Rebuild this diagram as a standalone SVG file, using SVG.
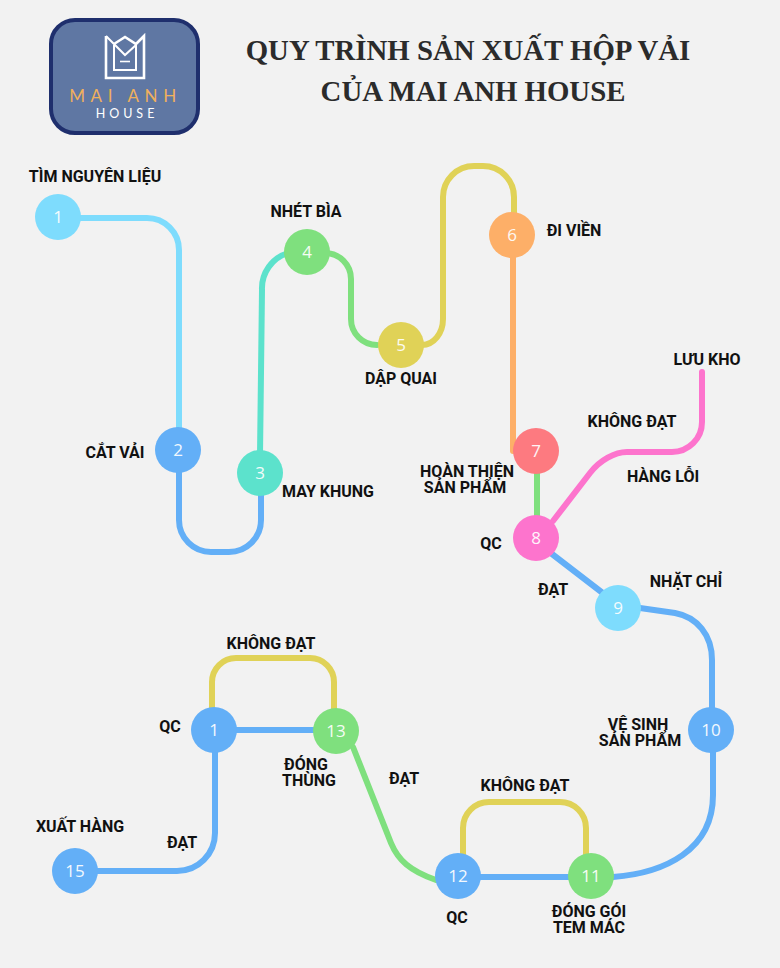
<svg xmlns="http://www.w3.org/2000/svg" width="780" height="968" viewBox="0 0 780 968">
<style>
.c{fill:none;stroke-width:6;stroke-linecap:round;stroke-linejoin:round}
.l{font-family:Roboto,"Liberation Sans",sans-serif;font-weight:700;font-size:16px;fill:#111;text-anchor:middle}
.n{font-family:"Open Sans","Noto Sans",sans-serif;font-size:17px;fill:#fff;text-anchor:middle;opacity:.92}
.t{font-family:"Liberation Serif",serif;font-weight:700;font-size:28.800px;fill:#2b2b2b;text-anchor:middle}
.blue{stroke:#63aff7}.sky{stroke:#7edcfd}.yel{stroke:#e0d257}.grn{stroke:#7fe07e}.tea{stroke:#5ce2cc}.org{stroke:#fdaf68}.pnk{stroke:#fd74cd}
</style>
<rect width="780" height="968" fill="#f2f2f2"/>
<g id="logo">
<rect x="51" y="20" width="147" height="113" rx="24" fill="#5f77a3" stroke="#1f2f6d" stroke-width="4"/>
<path d="M106 36V78H144V36L136 44L125 37L114 44" fill="none" stroke="#fff" stroke-width="2.600"/>
<path d="M114 45V70H136V44M106 36L125 55L136 45" fill="none" stroke="#fff" stroke-width="2"/>
<path d="M120 61.500H130" fill="none" stroke="#fff" stroke-width="1.600"/>
<text x="125.500" y="102" font-family="Lato,'Open Sans',sans-serif" font-size="17" letter-spacing="5.600" fill="#f0b05c" text-anchor="middle">MAI ANH</text>
<text x="127" y="118" font-family="Lato,'Open Sans',sans-serif" font-size="12.500" letter-spacing="4" fill="#fff" text-anchor="middle">HOUSE</text>
</g>
<g id="title">
<text class="t" x="468" y="60">QUY TRÌNH SẢN XUẤT HỘP VẢI</text>
<text class="t" x="473" y="101">CỦA MAI ANH HOUSE</text>
</g>
<g id="connectors">
<path class="c sky" d="M78 218H147A32 32 0 0 1 179 250V430"/>
<path class="c blue" d="M179 470V520A32 32 0 0 0 211 552H229A32 32 0 0 0 261 520V490"/>
<path class="c tea" d="M260 455L262 290A37 37 0 0 1 288 253"/>
<path class="c grn" d="M325 253A26 26 0 0 1 351 279V319A26 26 0 0 0 377 345"/>
<path class="c yel" d="M422 345A21 26 0 0 0 443 319V197A31 31 0 0 1 474 166H483A31 31 0 0 1 514 197V215"/>
<path class="c org" d="M513 250V451"/>
<path class="c grn" d="M537 470V518"/>
<path class="c pnk" d="M553 521L590 473C600 460 615 452 627 452H672A30 30 0 0 0 702 422V372"/>
<path class="c blue" d="M552 554L604 594"/>
<path class="c blue" d="M640 608L675 613C697 617 712 635 712 660V710"/>
<path class="c blue" d="M713 750V795C713 850 665 873 613 877"/>
<path class="c blue" d="M478 877H570"/>
<path class="c yel" d="M463 855V828A26 26 0 0 1 489 802H560A26 26 0 0 1 586 828V855"/>
<path class="c grn" d="M353 747L391 843C398 860 410 871 436 880"/>
<path class="c blue" d="M234 730H315"/>
<path class="c yel" d="M212 709V682A24 24 0 0 1 236 658H310A24 24 0 0 1 334 682V709"/>
<path class="c blue" d="M215 750V833A38 38 0 0 1 177 871H95"/>
</g>
<g id="node-1"><circle cx="58" cy="217" r="23" fill="#7edcfd"/><text class="n" x="58" y="223">1</text><text class="l" x="95" y="182">TÌM NGUYÊN LIỆU</text></g>
<g id="node-2"><circle cx="178" cy="450" r="23" fill="#63aff7"/><text class="n" x="178" y="456">2</text><text class="l" x="115" y="458">CẮT VẢI</text></g>
<g id="node-3"><circle cx="260" cy="473" r="23" fill="#5ce2cc"/><text class="n" x="260" y="479">3</text><text class="l" x="328" y="497">MAY KHUNG</text></g>
<g id="node-4"><circle cx="307" cy="252" r="23" fill="#7fe07e"/><text class="n" x="307" y="258">4</text><text class="l" x="306" y="217">NHÉT BÌA</text></g>
<g id="node-5"><circle cx="401" cy="345" r="23" fill="#e0d257"/><text class="n" x="401" y="351">5</text><text class="l" x="401" y="384">DẬP QUAI</text></g>
<g id="node-6"><circle cx="512" cy="235" r="23" fill="#fdaf68"/><text class="n" x="512" y="241">6</text><text class="l" x="574" y="236">ĐI VIỀN</text></g>
<g id="node-7"><circle cx="536" cy="451" r="23" fill="#fd7a80"/><text class="n" x="536" y="457">7</text><text class="l" y="477"><tspan x="467">HOÀN THIỆN</tspan><tspan x="465" dy="16">SẢN PHẨM</tspan></text></g>
<g id="node-8"><circle cx="536" cy="538" r="23" fill="#fd74cd"/><text class="n" x="536" y="544">8</text><text class="l" x="491" y="549">QC</text></g>
<g id="node-9"><circle cx="618" cy="608" r="23" fill="#7edcfd"/><text class="n" x="618" y="614">9</text><text class="l" x="686" y="587">NHẶT CHỈ</text></g>
<g id="node-10"><circle cx="711" cy="730" r="23" fill="#63aff7"/><text class="n" x="711" y="736">10</text><text class="l" y="730"><tspan x="638">VỆ SINH</tspan><tspan x="640" dy="16">SẢN PHẨM</tspan></text></g>
<g id="node-11"><circle cx="591" cy="876" r="23" fill="#7fe07e"/><text class="n" x="591" y="882">11</text><text class="l" y="917"><tspan x="589">ĐÓNG GÓI</tspan><tspan x="589" dy="16">TEM MÁC</tspan></text></g>
<g id="node-12"><circle cx="458" cy="876" r="23" fill="#63aff7"/><text class="n" x="458" y="882">12</text><text class="l" x="457" y="923">QC</text></g>
<g id="node-13"><circle cx="336" cy="731" r="23" fill="#7fe07e"/><text class="n" x="336" y="737">13</text><text class="l" y="770"><tspan x="306">ĐÓNG</tspan><tspan x="309" dy="16">THÙNG</tspan></text></g>
<g id="node-14"><circle cx="214" cy="730" r="23" fill="#63aff7"/><text class="n" x="214" y="736">1</text><text class="l" x="170" y="732">QC</text></g>
<g id="node-15"><circle cx="75" cy="871" r="23" fill="#63aff7"/><text class="n" x="75" y="877">15</text><text class="l" x="80" y="832">XUẤT HÀNG</text></g>
<g id="labels">
<text class="l" x="632" y="427">KHÔNG ĐẠT</text>
<text class="l" x="663" y="482">HÀNG LỖI</text>
<text class="l" x="707" y="365">LƯU KHO</text>
<text class="l" x="553" y="595">ĐẠT</text>
<text class="l" x="271" y="649">KHÔNG ĐẠT</text>
<text class="l" x="182" y="848">ĐẠT</text>
<text class="l" x="404" y="784">ĐẠT</text>
<text class="l" x="525" y="791">KHÔNG ĐẠT</text>
</g>
</svg>
